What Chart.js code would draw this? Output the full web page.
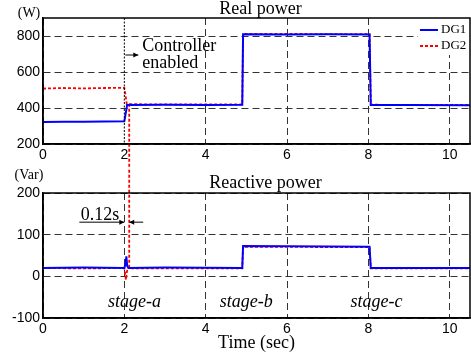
<!DOCTYPE html>
<html>
<head>
<meta charset="utf-8">
<script src="https://cdn.jsdelivr.net/npm/chart.js@4.4.1/dist/chart.umd.min.js"></script>
<style>
  html, body { margin: 0; padding: 0; background: #fff; }
  canvas { display: block; }
</style>
</head>
<body>
<canvas id="realChart" width="471" height="168"></canvas>
<canvas id="reactiveChart" width="471" height="192"></canvas>
<script>
/* globals Chart:false */

// Axes
const timeTicks = [0, 2, 4, 6, 8, 10]
const realTicks = [200, 400, 600, 800]
const reactiveTicks = [-100, 0, 100, 200]

// Real power (W)
const dg1RealTime = [0, 0.5, 1, 1.5, 2.0, 2.07, 3, 4, 4.9, 4.92, 6, 7, 8.03, 8.06, 9, 10.5]
const dg1RealValue = [322, 324, 323, 325, 326, 417, 418, 417, 418, 810, 809, 810, 808, 416, 417, 415]
const dg2RealTime = [0, 0.5, 1, 1.5, 2.0, 2.03, 2.06, 2.12, 2.12, 2.12, 2.12, 3, 4.9, 4.92, 8.03, 8.06, 10.5]
const dg2RealValue = [508, 511, 509, 511, 512, 470, 421, 421, -1000, null, 421, 420, 420, 812, 810, 418, 417]

// Reactive power (Var)
const dg1ReacTime = [0, 1, 2.0, 2.03, 2.05, 2.07, 2.1, 3, 4.9, 4.92, 6, 8.03, 8.06, 9, 10.5]
const dg1ReacValue = [20, 21, 20, 30, 48, 25, 20, 21, 20, 73, 72, 71, 20, 20, 20]
const dg2ReacTime = [0, 1, 2.0, 2.02, 2.04, 2.06, 2.08, 2.12, 2.12, 2.12, 2.2, 4.9, 4.92, 8.03, 8.06, 10.5]
const dg2ReacValue = [20, 19, 20, 5, -8, 10, 18, null, 1000, 20, 19, 19, 71, 70, 19, 19]

const stageLabels = ['stage-a', 'stage-b', 'stage-c']
const stageTimes = [2.25, 5.0, 8.2]

const serif = '"Liberation Serif", "Times New Roman", serif'
const sans = '"Liberation Sans", Arial, sans-serif'

const toPoints = (t, v) => t.map((x, i) => ({ x, y: v[i] }))

// plot title, box frame
const frame = {
  id: 'frame',
  afterDraw (chart, args, opts) {
    const { ctx, chartArea: a } = chart
    ctx.save()
    ctx.strokeStyle = '#000'
    ctx.lineWidth = 1.5
    ctx.strokeRect(a.left, a.top, a.right - a.left, a.bottom - a.top)
    ctx.fillStyle = '#000'
    ctx.font = '18px ' + serif
    ctx.textAlign = 'center'
    ctx.textBaseline = 'middle'
    ctx.fillText(opts.text, (a.left + a.right) / 2 + opts.shift, opts.y)
    ctx.font = '14px ' + serif
    ctx.fillText(opts.unit, 29, opts.unitY)
    ctx.restore()
  }
}

function arrow (ctx, x1, y, x2) {
  const d = x2 > x1 ? 1 : -1
  ctx.beginPath()
  ctx.moveTo(x1, y)
  ctx.lineTo(x2, y)
  ctx.stroke()
  ctx.beginPath()
  ctx.moveTo(x2, y)
  ctx.lineTo(x2 - d * 5, y - 2.5)
  ctx.lineTo(x2 - d * 5, y + 2.5)
  ctx.closePath()
  ctx.fill()
}

function makeOptions (padTop, yTicks, yMin, yMax, xHeight, xTitle) {
  return {
    responsive: false,
    animation: false,
    layout: { padding: { left: 0, right: 1, top: padTop, bottom: 0 } },
    elements: { point: { radius: 0 }, line: { tension: 0 } },
    plugins: {
      legend: { display: false },
      tooltip: { enabled: false },
      title: { display: false }
    },
    scales: {
      x: {
        type: 'linear',
        min: 0,
        max: 10.5,
        afterBuildTicks: s => { s.ticks = timeTicks.map(v => ({ value: v })) },
        afterFit: s => { s.height = xHeight },
        ticks: { color: '#000', padding: 3, font: { family: sans, size: 14 }, maxRotation: 0 },
        grid: { color: '#333', lineWidth: 1, drawTicks: false },
        border: { color: '#000', width: 1.5, dash: [7, 4] },
        title: {
          display: !!xTitle,
          text: xTitle || '',
          color: '#000',
          font: { family: serif, size: 18, lineHeight: 1 },
          padding: { top: 0, bottom: 8 }
        }
      },
      y: {
        min: yMin,
        max: yMax,
        afterBuildTicks: s => { s.ticks = yTicks.map(v => ({ value: v })) },
        afterFit: s => { s.width = 43 },
        ticks: { color: '#000', padding: 3, font: { family: sans, size: 14 } },
        grid: { color: '#333', lineWidth: 1, drawTicks: false },
        border: { color: '#000', width: 1.5, dash: [7, 4] }
      }
    }
  }
}

const dg1Style = { borderColor: '#0000ff', borderWidth: 2 }
const dg2Style = { borderColor: '#ff0000', borderWidth: 1.8, borderDash: [3, 2], spanGaps: false }

// Top chart: real power
const realOptions = makeOptions(18, realTicks, 200, 900, 24, null)
realOptions.scales.x.grid.color = c => (c.tick && c.tick.value === 2 ? 'rgba(0,0,0,0)' : '#333')
realOptions.plugins.frame = { text: 'Real power', shift: 4, y: 9, unit: '(W)', unitY: 13 }

const realDecor = {
  id: 'realDecor',
  afterDatasetsDraw (chart) {
    const { ctx, chartArea: a, scales: { x } } = chart
    const x2 = x.getPixelForValue(2)
    ctx.save()
    // controller marker
    ctx.strokeStyle = '#000'
    ctx.lineWidth = 1
    ctx.setLineDash([2, 1.5])
    ctx.beginPath()
    ctx.moveTo(x2, a.top)
    ctx.lineTo(x2, a.bottom)
    ctx.stroke()
    ctx.setLineDash([])
    ctx.fillStyle = '#000'
    arrow(ctx, x2 + 1, a.top + 37, x2 + 14)
    ctx.font = '18px ' + serif
    ctx.textBaseline = 'middle'
    ctx.textAlign = 'left'
    ctx.fillText('Controller', x2 + 18, a.top + 28)
    ctx.fillText('enabled', x2 + 18, a.top + 45)
    // legend
    const lx = a.right - 52
    ctx.fillStyle = '#fff'
    ctx.fillRect(lx, a.top, 52, 37)
    ctx.font = '13px ' + serif
    chart.data.datasets.forEach((ds, i) => {
      const ly = a.top + 12 + i * 16
      ctx.strokeStyle = ds.borderColor
      ctx.lineWidth = ds.borderWidth
      ctx.setLineDash(ds.borderDash || [])
      ctx.beginPath()
      ctx.moveTo(lx + 2, ly)
      ctx.lineTo(lx + 20, ly)
      ctx.stroke()
      ctx.fillStyle = '#000'
      ctx.fillText(ds.label, lx + 23, ly)
    })
    ctx.restore()
  }
}

// eslint-disable-next-line no-unused-vars
const realChart = new Chart(document.getElementById('realChart'), {
  type: 'line',
  data: {
    datasets: [
      { label: 'DG1', data: toPoints(dg1RealTime, dg1RealValue), ...dg1Style },
      { label: 'DG2', data: toPoints(dg2RealTime, dg2RealValue), ...dg2Style, clip: { left: 0, top: 0, right: 0, bottom: false } }
    ]
  },
  options: realOptions,
  plugins: [realDecor, frame]
})

// Bottom chart: reactive power
const reacOptions = makeOptions(25, reactiveTicks, -100, 200, 42, 'Time (sec)')
reacOptions.plugins.frame = { text: 'Reactive power', shift: 9, y: 15, unit: '(Var)', unitY: 7 }

const reacDecor = {
  id: 'reacDecor',
  afterDatasetsDraw (chart) {
    const { ctx, scales: { x, y } } = chart
    const x2 = x.getPixelForValue(2)
    const x212 = x.getPixelForValue(2.12)
    ctx.save()
    ctx.fillStyle = '#000'
    ctx.strokeStyle = '#000'
    ctx.lineWidth = 1
    ctx.textBaseline = 'middle'
    // 0.12s marker
    ctx.font = '18px ' + serif
    ctx.textAlign = 'right'
    ctx.fillText('0.12s', x2 - 5, y.getPixelForValue(147))
    const uy = y.getPixelForValue(130)
    arrow(ctx, x2 - 45, uy, x2)
    arrow(ctx, x212 + 14, uy, x212)
    // stages
    ctx.font = 'italic 18px ' + serif
    ctx.textAlign = 'center'
    stageLabels.forEach((s, i) => {
      ctx.fillText(s, x.getPixelForValue(stageTimes[i]), y.getPixelForValue(-62))
    })
    ctx.restore()
  }
}

// eslint-disable-next-line no-unused-vars
const reacChart = new Chart(document.getElementById('reactiveChart'), {
  type: 'line',
  data: {
    datasets: [
      { label: 'DG1', data: toPoints(dg1ReacTime, dg1ReacValue), ...dg1Style },
      { label: 'DG2', data: toPoints(dg2ReacTime, dg2ReacValue), ...dg2Style, clip: { left: 0, top: false, right: 0, bottom: 0 } }
    ]
  },
  options: reacOptions,
  plugins: [reacDecor, frame]
})
</script>
</body>
</html>
